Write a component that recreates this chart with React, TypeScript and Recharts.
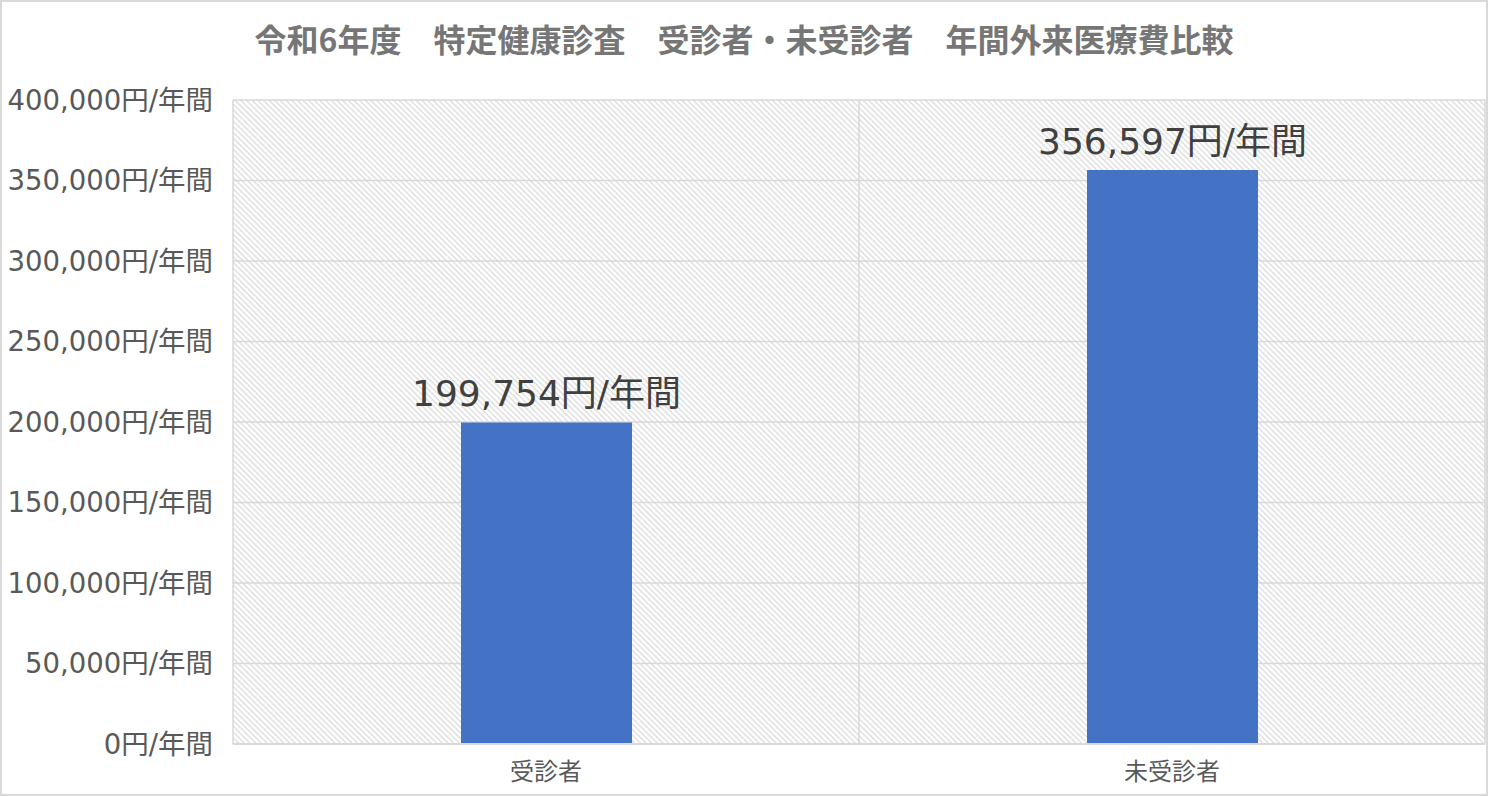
import React from "react";
import {
  BarChart,
  Bar,
  XAxis,
  YAxis,
  CartesianGrid,
  LabelList,
} from "recharts";

const categories = ["受診者", "未受診者"];
const costs = [199754, 356597];
const yTicks = [0, 50000, 100000, 150000, 200000, 250000, 300000, 350000, 400000];
const title = "令和6年度　特定健康診査　受診者・未受診者　年間外来医療費比較";

const data = categories.map((name, i) => ({ name, cost: costs[i] }));

const FONT = '"DejaVu Sans", "Noto Sans CJK JP", sans-serif';
const yen = (v: number) => `${v.toLocaleString("ja-JP")}円/年間`;

export default function App() {
  return (
    <div
      style={{
        position: "absolute",
        left: 0,
        top: 0,
        width: 1488,
        height: 796,
        boxSizing: "border-box",
        border: "2px solid #d9d9d9",
        background: "#fff",
        fontFamily: FONT,
      }}
    >
      <div
        style={{
          position: "absolute",
          top: 16,
          left: 0,
          width: "100%",
          textAlign: "center",
          fontFamily: '"Noto Sans CJK JP", sans-serif',
          fontSize: 32,
          fontWeight: 700,
          color: "#767676",
          lineHeight: "40px",
        }}
      >
        {title}
      </div>
      <div style={{ position: "absolute", left: -2, top: -2 }}>
        <BarChart
          width={1488}
          height={796}
          data={data}
          margin={{ top: 100, right: 3, bottom: 0, left: 0 }}
        >
          <defs>
            <pattern
              id="hatch"
              patternUnits="userSpaceOnUse"
              width={4}
              height={4}
              patternTransform="rotate(45)"
            >
              <rect x={0} y={0} width={4} height={1.3} fill="#dadada" />
            </pattern>
          </defs>
          <CartesianGrid
            fill="url(#hatch)"
            stroke="#d9d9d9"
            strokeWidth={1.5}
            verticalCoordinatesGenerator={({ offset }: any) => [
              offset.left,
              offset.left + offset.width / 2,
              offset.left + offset.width,
            ]}
          />
          <XAxis
            dataKey="name"
            height={52}
            axisLine={{ stroke: "#d9d9d9", strokeWidth: 2 }}
            tickLine={false}
            tickSize={0}
            tickMargin={19}
            tick={{ fill: "#595959", fontSize: 24, fontFamily: FONT }}
          />
          <YAxis
            width={233}
            domain={[0, 400000]}
            ticks={yTicks}
            axisLine={false}
            tickLine={false}
            tickSize={0}
            tickMargin={20}
            tickFormatter={yen}
            tick={{ fill: "#595959", fontSize: 27.5, fontFamily: FONT }}
          />
          <Bar dataKey="cost" fill="#4472c4" barSize={171} isAnimationActive={false}>
            <LabelList
              dataKey="cost"
              position="top"
              offset={16}
              formatter={(v: any) => yen(Number(v))}
              style={{ fill: "#404040", fontSize: 36, fontFamily: FONT }}
            />
          </Bar>
        </BarChart>
      </div>
    </div>
  );
}
